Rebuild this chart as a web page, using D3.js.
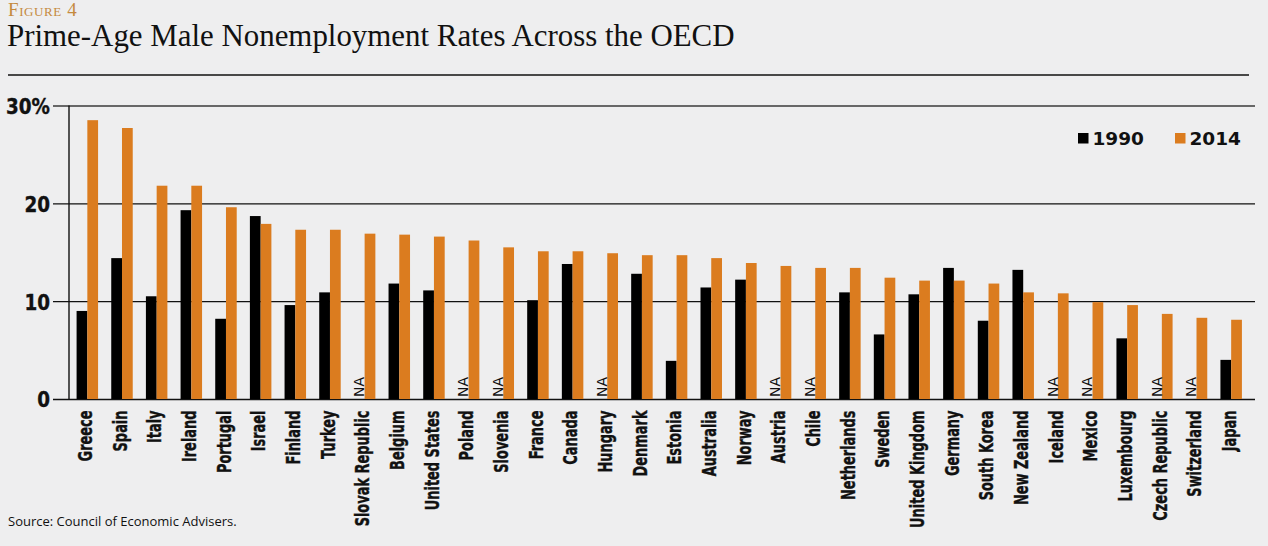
<!DOCTYPE html>
<html>
<head>
<meta charset="utf-8">
<script src="https://cdn.jsdelivr.net/npm/d3@7"></script>
<style>
  html, body { margin: 0; padding: 0; background: #eeeeef; }
  svg { display: block; }
</style>
</head>
<body>
<svg id="chart" width="1268" height="546"></svg>
<script>
// страны по порядку как на рисунке
const countries = ["Greece", "Spain", "Italy", "Ireland", "Portugal", "Israel", "Finland", "Turkey",
  "Slovak Republic", "Belgium", "United States", "Poland", "Slovenia", "France", "Canada", "Hungary",
  "Denmark", "Estonia", "Australia", "Norway", "Austria", "Chile", "Netherlands", "Sweden",
  "United Kingdom", "Germany", "South Korea", "New Zealand", "Iceland", "Mexico", "Luxembourg",
  "Czech Republic", "Switzerland", "Japan"];

// значения в процентах, null = NA
const rate1990 = [9.0, 14.4, 10.5, 19.3, 8.2, 18.7, 9.6, 10.9, null, 11.8, 11.1, null, null, 10.1,
  13.8, null, 12.8, 3.9, 11.4, 12.2, null, null, 10.9, 6.6, 10.7, 13.4, 8.0, 13.2, null, null,
  6.2, null, null, 4.0];
const rate2014 = [28.5, 27.7, 21.8, 21.8, 19.6, 17.9, 17.3, 17.3, 16.9, 16.8, 16.6, 16.2, 15.5,
  15.1, 15.1, 14.9, 14.7, 14.7, 14.4, 13.9, 13.6, 13.4, 13.4, 12.4, 12.1, 12.1, 11.8, 10.9, 10.8,
  9.9, 9.6, 8.7, 8.3, 8.1];

const seriesNames = ["1990", "2014"];
const yTicks = [0, 10, 20, 30];

const colors = { "1990": "#000000", "2014": "#db7c1f" };

const data = countries.map((c, i) => ({ country: c, "1990": rate1990[i], "2014": rate2014[i] }));

const svg = d3.select("#chart");

// заголовок
svg.append("text")
  .attr("x", 8).attr("y", 16)
  .style("font-family", "'Liberation Serif', 'DejaVu Serif', serif")
  .style("font-size", "19px")
  .style("font-variant", "small-caps")
  .style("letter-spacing", "0.6px")
  .style("fill", "#c58a3e")
  .text("Figure 4");

svg.append("text")
  .attr("x", 7).attr("y", 46)
  .style("font-family", "'Liberation Serif', 'DejaVu Serif', serif")
  .style("font-size", "30.9px")
  .style("fill", "#111")
  .text("Prime-Age Male Nonemployment Rates Across the OECD");

svg.append("line")
  .attr("x1", 8).attr("x2", 1249)
  .attr("y1", 75).attr("y2", 75)
  .style("stroke", "#111").style("stroke-width", 1.5);

// шкалы
const x = d3.scaleBand()
  .domain(countries)
  .range([70, 1248.5])
  .paddingInner(0.38)
  .paddingOuter(0.19);

const xSub = d3.scaleBand()
  .domain(seriesNames)
  .range([0, x.bandwidth()]);

const y = d3.scaleLinear()
  .domain([0, 30])
  .range([399, 105.5]);

// ось Y с линиями сетки
const gY = svg.append("g")
  .attr("transform", "translate(53,0)")
  .call(d3.axisLeft(y)
    .tickValues(yTicks)
    .tickSize(-(1255 - 53))
    .tickPadding(3)
    .tickFormat(d => d === 30 ? "30%" : d));

gY.select(".domain").remove();
gY.selectAll(".tick line")
  .style("stroke", d => d === 30 ? "#3a3a3a" : "#111")
  .style("stroke-width", 1.4);
const yText = gY.selectAll(".tick text")
  .style("font-family", "'DejaVu Sans', sans-serif")
  .style("font-weight", "bold")
  .style("font-size", "22px")
  .style("fill", "#111")
  .style("stroke", "#111")
  .style("stroke-width", 0.4)
  .attr("dy", "0.36em");

// сжимаем подписи по ширине (узкий шрифт)
const w30 = yText.filter(d => d === 30).node().getComputedTextLength();
const sy = 44 / w30;
yText.attr("transform", `scale(${sy},1)`).attr("x", -3 / sy);

// вертикальная линия оси
svg.append("line")
  .attr("x1", 69).attr("x2", 69)
  .attr("y1", y(30)).attr("y2", y(0))
  .style("stroke", "#111").style("stroke-width", 1.4);

// столбцы
const groups = svg.append("g")
  .selectAll("g")
  .data(data)
  .join("g")
  .attr("transform", d => `translate(${x(d.country)},0)`);

groups.selectAll("rect")
  .data(d => seriesNames.filter(k => d[k] !== null).map(k => ({ key: k, value: d[k] })))
  .join("rect")
  .attr("x", d => xSub(d.key))
  .attr("width", xSub.bandwidth())
  .attr("y", d => y(d.value))
  .attr("height", d => y(0) - y(d.value))
  .style("fill", d => colors[d.key]);

// NA для отсутствующих данных
groups.filter(d => d["1990"] === null)
  .append("text")
  .attr("transform", `translate(${xSub("1990") + xSub.bandwidth() / 2},${y(0) - 2}) rotate(-90)`)
  .attr("dy", "0.36em")
  .style("font-family", "'DejaVu Sans', sans-serif")
  .style("font-size", "14px")
  .style("fill", "#111")
  .text("NA");

// ось X
const gX = svg.append("g")
  .attr("transform", `translate(0,${y(0)})`)
  .call(d3.axisBottom(x).tickSize(0));

gX.select(".domain").remove();
const xText = gX.selectAll(".tick text")
  .style("font-family", "'DejaVu Sans', sans-serif")
  .style("font-weight", "bold")
  .style("font-size", "20px")
  .style("fill", "#111")
  .style("stroke", "#111")
  .style("stroke-width", 0.4)
  .style("text-anchor", "end")
  .attr("x", 0).attr("y", 0)
  .attr("dy", "0.36em");

const wSlovak = xText.filter(d => d === "Slovak Republic").node().getComputedTextLength();
const sx = 116 / wSlovak;
xText.attr("transform", `translate(-2.5,11.5) rotate(-90) scale(${sx},1)`);

// легенда
const legend = svg.append("g")
  .selectAll("g")
  .data(seriesNames)
  .join("g")
  .attr("transform", (d, i) => `translate(${1078 + i * 97},0)`);

legend.append("rect")
  .attr("x", 0).attr("y", 133)
  .attr("width", 10.5).attr("height", 10.5)
  .style("fill", d => colors[d]);

legend.append("text")
  .attr("x", 14.5).attr("y", 144.5)
  .style("font-family", "'DejaVu Sans', sans-serif")
  .style("font-weight", "bold")
  .style("font-size", "18.5px")
  .style("fill", "#111")
  .text(d => d);

// источник
svg.append("text")
  .attr("x", 8).attr("y", 526)
  .style("font-family", "'Open Sans', 'DejaVu Sans', sans-serif")
  .style("font-size", "13px")
  .style("fill", "#111")
  .text("Source: Council of Economic Advisers.");
</script>
</body>
</html>
